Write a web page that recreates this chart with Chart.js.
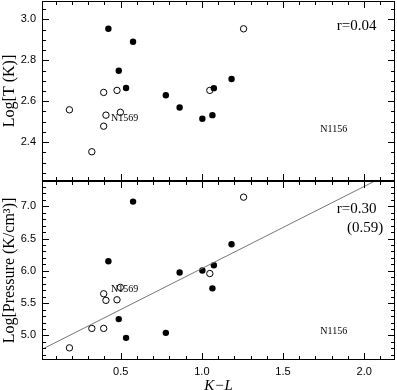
<!DOCTYPE html>
<html>
<head>
<meta charset="utf-8">
<script src="https://cdn.jsdelivr.net/npm/chart.js@4"></script>
<style>
  body { margin: 0; background: #fff; }
  #wrap { position: relative; width: 397px; height: 390px; }
  canvas { position: absolute; left: 0; top: 0; }
</style>
</head>
<body>
<div id="wrap">
  <canvas id="topChart" width="397" height="390"></canvas>
  <canvas id="bottomChart" width="397" height="390"></canvas>
</div>
<script>
// K-L colour of each galaxy (filled = one sample, open = the other)
const FILLED_KL   = [0.424, 0.576, 0.488, 0.533, 0.778, 0.863, 1.003, 1.065, 1.074, 1.183];
const FILLED_LOGT = [2.954, 2.891, 2.749, 2.665, 2.629, 2.569, 2.514, 2.532, 2.664, 2.709];
const FILLED_LOGP = [6.149, 7.071, 5.253, 4.963, 5.040, 5.974, 6.005, 5.729, 6.087, 6.411];

const OPEN_KL   = [0.184, 0.322, 0.395, 0.395, 0.409, 0.477, 0.498, 1.049, 1.257];
const OPEN_LOGT = [2.558, 2.353, 2.643, 2.478, 2.532, 2.653, 2.546, 2.653, 2.954];
const OPEN_LOGP = [4.808, 5.109, 5.645, 5.109, 5.543, 5.552, 5.744, 5.958, 7.140];

// least squares fit in the pressure panel
const FIT_SLOPE = 1.27;
const FIT_INTERCEPT = 4.766;

const KL_MIN = 0.015, KL_MAX = 2.19;
const LOGT_MIN = 2.21, LOGT_MAX = 3.09;
const LOGP_MIN = 4.62, LOGP_MAX = 7.39;

const X_TICKS = [0.5, 1.0, 1.5, 2.0];
const LOGT_TICKS = [2.4, 2.6, 2.8, 3.0];
const LOGP_TICKS = [5.0, 5.5, 6.0, 6.5, 7.0];

const TICK_FONT = { family: 'Liberation Sans', size: 11 };
const TITLE_FONT = { family: 'Liberation Serif', size: 16 };

function toPoints(xs, ys) {
    return xs.map((x, i) => ({ x: x, y: ys[i] }));
}

// frame round the plot area with inward ticks on all four sides
const framePlugin = {
    id: 'frame',
    afterDatasetsDraw(chart, args, opts) {
        const { ctx, chartArea: a } = chart;
        const xs = chart.scales.x, ys = chart.scales.y;
        ctx.save();
        ctx.strokeStyle = '#000';
        ctx.lineWidth = 1;
        ctx.strokeRect(a.left + 0.5, a.top + 0.5, a.right - a.left - 1, a.bottom - a.top - 1);
        ctx.beginPath();
        let k0 = Math.ceil(xs.min / opts.xMinor - 1e-6), k1 = Math.floor(xs.max / opts.xMinor + 1e-6);
        for (let k = k0; k <= k1; k++) {
            const v = k * opts.xMinor;
            const len = Math.abs(v / opts.xMajor - Math.round(v / opts.xMajor)) < 1e-6 ? 7 : 4;
            const px = Math.round(xs.getPixelForValue(v)) + 0.5;
            ctx.moveTo(px, a.top); ctx.lineTo(px, a.top + len);
            ctx.moveTo(px, a.bottom); ctx.lineTo(px, a.bottom - len);
        }
        k0 = Math.ceil(ys.min / opts.yMinor - 1e-6); k1 = Math.floor(ys.max / opts.yMinor + 1e-6);
        for (let k = k0; k <= k1; k++) {
            const v = k * opts.yMinor;
            const len = Math.abs(v / opts.yMajor - Math.round(v / opts.yMajor)) < 1e-6 ? 7 : 4;
            const py = Math.round(ys.getPixelForValue(v)) + 0.5;
            ctx.moveTo(a.left, py); ctx.lineTo(a.left + len, py);
            ctx.moveTo(a.right, py); ctx.lineTo(a.right - len, py);
        }
        ctx.stroke();

        // text notes placed in data space
        (opts.notes || []).forEach(n => {
            ctx.font = n.font;
            ctx.fillStyle = '#000';
            ctx.textAlign = n.align || 'left';
            ctx.textBaseline = 'middle';
            ctx.fillText(n.text, xs.getPixelForValue(n.x), ys.getPixelForValue(n.y));
        });
        ctx.restore();
    }
};

function yAxis(min, max, ticks, title) {
    return {
        position: 'left', min: min, max: max,
        grid: { display: false, drawTicks: false }, border: { display: false },
        afterBuildTicks: s => { s.ticks = ticks.map(v => ({ value: v })); },
        afterFit: s => { s.width = 42; s.paddingTop = 0; s.paddingBottom = 0; },
        ticks: { padding: 6, color: '#000', font: TICK_FONT, callback: v => Number(v).toFixed(1) },
        title: { display: true, text: title, color: '#000', font: TITLE_FONT, padding: 0 }
    };
}

function scatterSets(filledY, openY) {
    return [
        {
            label: 'filled', data: toPoints(FILLED_KL, filledY),
            pointRadius: 3.2, pointBackgroundColor: '#000', pointBorderColor: '#000', pointBorderWidth: 0
        },
        {
            label: 'open', data: toPoints(OPEN_KL, openY),
            pointRadius: 3.2, pointBackgroundColor: '#fff', pointBorderColor: '#000', pointBorderWidth: 1
        }
    ];
}

Chart.defaults.animation = false;

new Chart('topChart', {
    type: 'scatter',
    data: { datasets: scatterSets(FILLED_LOGT, OPEN_LOGT) },
    options: {
        responsive: false,
        events: [],
        layout: { autoPadding: false, padding: { top: 1, right: 2, bottom: 209, left: 0 } },
        plugins: {
            legend: { display: false }, tooltip: { enabled: false },
            frame: {
                xMinor: 0.1, xMajor: 0.5, yMinor: 0.05, yMajor: 0.2,
                notes: [
                    { text: 'r=0.04', x: 2.076, y: 2.969, align: 'right', font: '15px "Liberation Serif"' },
                    { text: 'N1569', x: 0.44, y: 2.514, font: '10px "Liberation Serif"' },
                    { text: 'N1156', x: 1.73, y: 2.463, font: '10px "Liberation Serif"' }
                ]
            }
        },
        scales: {
            x: { type: 'linear', display: false, min: KL_MIN, max: KL_MAX },
            y: yAxis(LOGT_MIN, LOGT_MAX, LOGT_TICKS, 'Log[T (K)]')
        }
    },
    plugins: [framePlugin]
});

const bottomSets = scatterSets(FILLED_LOGP, OPEN_LOGP);
bottomSets.unshift({
    type: 'line', label: 'fit',
    data: [KL_MIN, KL_MAX].map(x => ({ x: x, y: FIT_INTERCEPT + FIT_SLOPE * x })),
    borderColor: '#777', borderWidth: 1, pointRadius: 0
});

new Chart('bottomChart', {
    type: 'scatter',
    data: { datasets: bottomSets },
    options: {
        responsive: false,
        events: [],
        layout: { autoPadding: false, padding: { top: 181, right: 2, bottom: 0, left: 0 } },
        plugins: {
            legend: { display: false }, tooltip: { enabled: false },
            frame: {
                xMinor: 0.1, xMajor: 0.5, yMinor: 0.1, yMajor: 0.5,
                notes: [
                    { text: 'r=0.30', x: 2.076, y: 6.953, align: 'right', font: '15px "Liberation Serif"' },
                    { text: '(0.59)', x: 2.117, y: 6.66, align: 'right', font: '15px "Liberation Serif"' },
                    { text: 'N1569', x: 0.44, y: 5.71, font: '10px "Liberation Serif"' },
                    { text: 'N1156', x: 1.73, y: 5.07, font: '10px "Liberation Serif"' }
                ]
            }
        },
        scales: {
            x: {
                type: 'linear', position: 'bottom', min: KL_MIN, max: KL_MAX,
                grid: { display: false, drawTicks: false }, border: { display: false },
                afterBuildTicks: s => { s.ticks = X_TICKS.map(v => ({ value: v })); },
                afterFit: s => { s.height = 30; s.paddingLeft = 0; s.paddingRight = 0; },
                ticks: { padding: 5, color: '#000', font: TICK_FONT, maxRotation: 0, callback: v => Number(v).toFixed(1) },
                title: {
                    display: true, text: 'K\u2212L', color: '#000',
                    font: { family: 'Liberation Serif', size: 15, style: 'italic', lineHeight: 1 },
                    padding: { top: 0, bottom: -4 }
                }
            },
            y: yAxis(LOGP_MIN, LOGP_MAX, LOGP_TICKS, 'Log[Pressure (K/cm\u00b3)]')
        }
    },
    plugins: [framePlugin]
});
</script>
</body>
</html>
